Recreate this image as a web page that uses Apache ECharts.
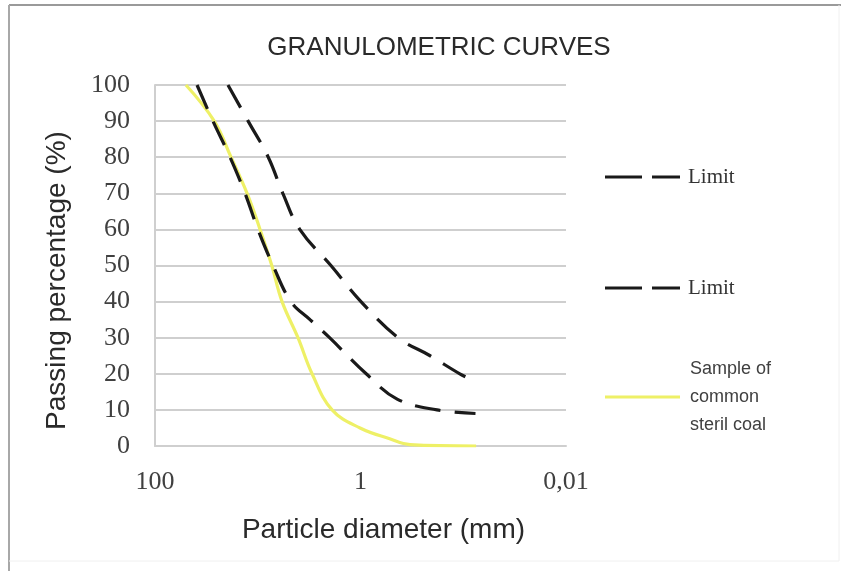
<!DOCTYPE html>
<html>
<head>
<meta charset="utf-8">
<script src="https://cdn.jsdelivr.net/npm/echarts@6/dist/echarts.min.js"></script>
<style>
html,body{margin:0;padding:0;background:#fff;}
#chart{width:841px;height:571px;}
</style>
</head>
<body>
<div id="chart"></div>
<script>
// Particle diameter (mm) and passing percentage (%)
const upperLimitDiam = [19.5, 12.4, 7.9, 5.7, 3.9, 1.94, 0.99, 0.43, 0.21, 0.108, 0.078];
const upperLimitPass = [100, 90, 80, 70, 60, 50, 40, 30, 25, 20, 18];
const lowerLimitDiam = [39, 27.3, 18.6, 13.3, 9.95, 7.1, 4.75, 3.1, 2.0, 0.88, 0.44, 0.18, 0.076];
const lowerLimitPass = [100, 90, 80, 70, 60, 50, 40, 35, 30, 20, 13, 10, 9];
const sampleDiam = [50, 26.5, 18.2, 12.7, 9.5, 7.3, 5.8, 4.06, 2.96, 1.89, 1.01, 0.52, 0.33, 0.075];
const samplePass = [100, 90, 80, 70, 60, 50, 40, 30, 20, 10, 5, 2, 0.4, 0];
const xTickLabels = {'100': '100', '1': '1', '0.01': '0,01'};
const yTicks = {min: 0, max: 100, interval: 10};

const zip = (a, b) => a.map((v, i) => [v, b[i]]);

const chart = echarts.init(document.getElementById('chart'), null, {renderer: 'canvas'});

const limitLegend = (name, top) => ({
  data: [name],
  left: 605,
  top: top,
  padding: 0,
  itemWidth: 75,
  itemHeight: 14,
  itemGap: 0,
  selectedMode: false,
  icon: 'path://M0,0h37v3h-37z M47,0h28v3h-28z',
  itemStyle: {color: '#1a1a1a', borderWidth: 0},
  formatter: () => 'Limit',
  textStyle: {fontFamily: 'Liberation Serif', fontSize: 21, color: '#333', lineHeight: 24, padding: [0, 0, 0, 3]}
});

chart.setOption({
  animation: false,
  backgroundColor: '#ffffff',
  title: {
    text: 'GRANULOMETRIC CURVES',
    left: 434,
    textAlign: 'center',
    top: 30,
    textStyle: {fontFamily: 'Liberation Sans', fontSize: 26, fontWeight: 'normal', color: '#2a2a2a'}
  },
  grid: {left: 155, right: 275, top: 85, bottom: 125, containLabel: false},
  legend: [
    limitLegend('Upper limit', 165),
    limitLegend('Lower limit', 276),
    {
      data: ['Sample of common steril coal'],
      left: 605,
      top: 355,
      padding: 0,
      itemWidth: 75,
      itemHeight: 14,
      selectedMode: false,
      icon: 'path://M0,0h75v3h-75z',
      itemStyle: {color: '#eef066', borderWidth: 0},
      formatter: () => 'Sample of\ncommon\nsteril coal',
      textStyle: {fontFamily: 'Liberation Sans', fontSize: 18, color: '#404040', lineHeight: 28, padding: [0, 0, 0, 5]}
    }
  ],
  xAxis: {
    type: 'log',
    logBase: 10,
    min: 0.01,
    max: 100,
    inverse: true,
    name: 'Particle diameter (mm)',
    nameLocation: 'middle',
    nameGap: 70,
    nameTextStyle: {fontFamily: 'Liberation Sans', fontSize: 28, color: '#2a2a2a', padding: [0, 0, 0, 46]},
    axisLine: {show: true, lineStyle: {color: '#cfcfcf', width: 2}},
    axisTick: {show: false},
    splitLine: {show: false},
    axisLabel: {
      margin: 23,
      fontFamily: 'Liberation Serif',
      fontSize: 26,
      color: '#404040',
      formatter: function (v) {
        const e = Math.round(Math.log10(v));
        const key = String(Math.pow(10, e) >= 1 ? Math.pow(10, e) : Number(Math.pow(10, e).toFixed(-e)));
        return xTickLabels[key] !== undefined ? xTickLabels[key] : '';
      }
    }
  },
  yAxis: {
    type: 'value',
    min: yTicks.min,
    max: yTicks.max,
    interval: yTicks.interval,
    name: 'Passing percentage (%)',
    nameLocation: 'middle',
    nameGap: 84,
    nameRotate: 90,
    nameTextStyle: {fontFamily: 'Liberation Sans', fontSize: 28, color: '#2a2a2a', padding: [0, 30, 0, 0]},
    axisLine: {show: true, lineStyle: {color: '#cfcfcf', width: 2}},
    axisTick: {show: false},
    splitLine: {show: true, lineStyle: {color: '#cfcfcf', width: 2}},
    axisLabel: {margin: 25, fontFamily: 'Liberation Serif', fontSize: 26, color: '#404040'}
  },
  series: [
    {
      name: 'Upper limit',
      type: 'line',
      data: zip(upperLimitDiam, upperLimitPass),
      smooth: 0.4,
      symbol: 'none',
      lineStyle: {color: '#1a1a1a', width: 3.2, type: [26, 14]},
      z: 3
    },
    {
      name: 'Lower limit',
      type: 'line',
      data: zip(lowerLimitDiam, lowerLimitPass),
      smooth: 0.4,
      symbol: 'none',
      lineStyle: {color: '#1a1a1a', width: 3.2, type: [26, 14]},
      z: 3
    },
    {
      name: 'Sample of common steril coal',
      type: 'line',
      data: zip(sampleDiam, samplePass),
      smooth: 0.4,
      symbol: 'none',
      lineStyle: {color: '#eef066', width: 3.2},
      z: 2
    }
  ],
  graphic: [
    {type: 'line', shape: {x1: 9, y1: 5, x2: 841, y2: 5}, style: {stroke: '#9a9a9a', lineWidth: 2}, silent: true},
    {type: 'line', shape: {x1: 9, y1: 5, x2: 9, y2: 571}, style: {stroke: '#a8a8a8', lineWidth: 2}, silent: true},
    {type: 'line', shape: {x1: 839, y1: 5, x2: 839, y2: 561}, style: {stroke: '#f0f0f0', lineWidth: 1}, silent: true},
    {type: 'line', shape: {x1: 9, y1: 561, x2: 839, y2: 561}, style: {stroke: '#f0f0f0', lineWidth: 1}, silent: true}
  ]
});
</script>
</body>
</html>
